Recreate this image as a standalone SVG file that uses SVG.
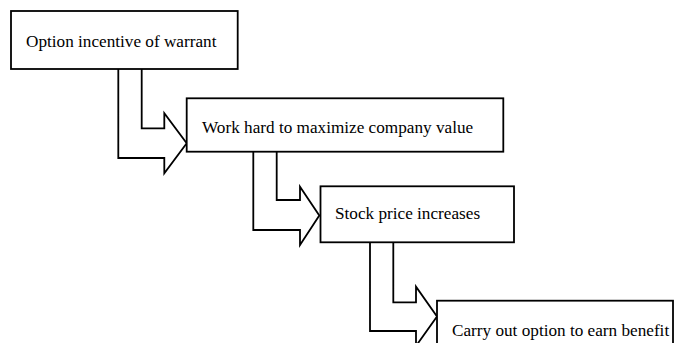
<svg xmlns="http://www.w3.org/2000/svg" width="674" height="343" viewBox="0 0 674 343">
<style>
.box{fill:#fff;stroke:#000;stroke-width:1.8}
.arr{fill:#fff;stroke:#000;stroke-width:1.8;stroke-linejoin:miter}
.t{font-family:"Liberation Serif","Times New Roman",serif;font-size:17.2px;fill:#000}
</style>
<rect width="674" height="343" fill="#fff"/>
<g id="connectors">
<path class="arr" d="M118.3,69 L118.3,158 L164.3,158 L164.3,173.3 L186.7,143.3 L164.3,113.3 L164.3,128.3 L141.7,128.3 L141.7,69"/>
<path class="arr" d="M253.3,151.7 L253.3,230 L300,230 L300,245 L319.3,215.5 L300,186.7 L300,200 L276.7,200 L276.7,151.7"/>
<path class="arr" d="M370,242.3 L370,331 L416,331 L416,346 L437,316.5 L416,286.7 L416,302.3 L393.3,302.3 L393.3,242.3"/>
</g>
<g id="node1">
<rect class="box" x="11" y="11" width="226.7" height="58"/>
<text class="t" x="26" y="46.5">Option incentive of warrant</text>
</g>
<g id="node2">
<rect class="box" x="186.7" y="98.3" width="316.6" height="53.4"/>
<text class="t" x="202" y="133.3">Work hard to maximize company value</text>
</g>
<g id="node3">
<rect class="box" x="320.5" y="186.3" width="193.5" height="56"/>
<text class="t" x="335" y="219">Stock price increases</text>
</g>
<g id="node4">
<rect class="box" x="437" y="300.7" width="236" height="50"/>
<text class="t" x="452" y="335.5">Carry out option to earn benefit</text>
</g>
</svg>
